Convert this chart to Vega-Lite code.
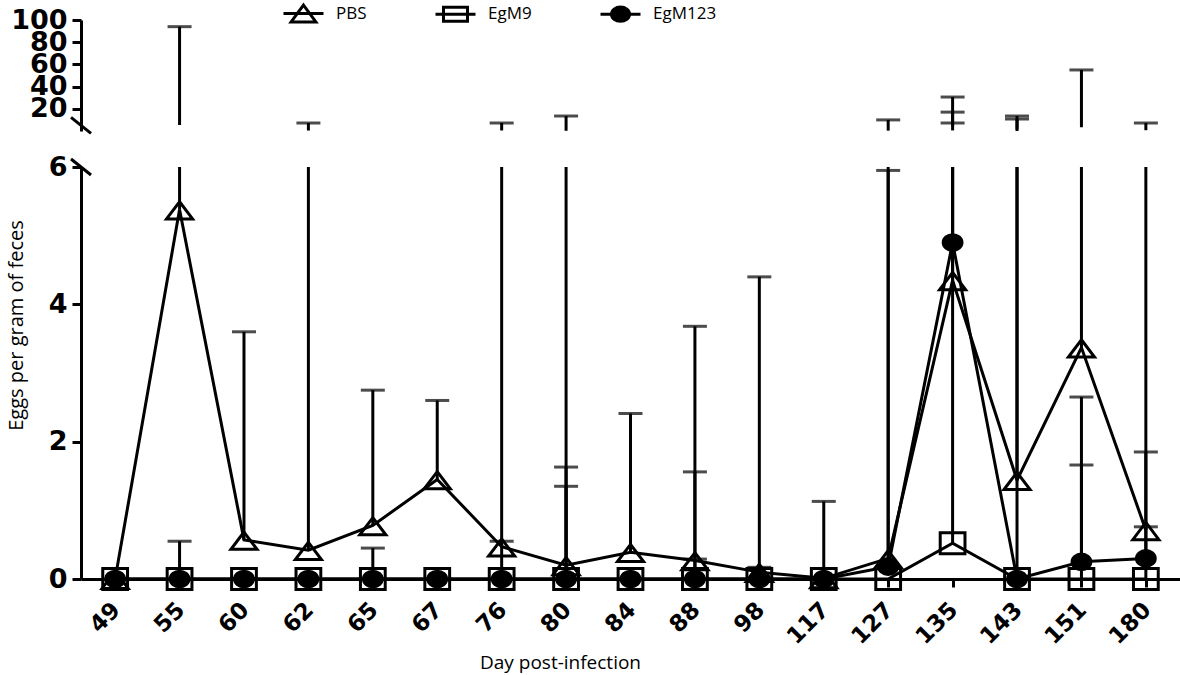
{
  "$schema": "https://vega.github.io/schema/vega-lite/v6.json",
  "autosize": {"type": "none"},
  "padding": {"left": 81, "top": 20, "right": 0, "bottom": 96},
  "width": 1099,
  "height": 559,
  "config": {
    "view": {"stroke": null},
    "axis": {
      "grid": false,
      "domainColor": "black",
      "domainWidth": 3,
      "tickColor": "black",
      "tickWidth": 3,
      "tickSize": 9,
      "labelColor": "black",
      "labelFont": "DejaVu Sans",
      "labelFontWeight": "bold",
      "labelFontSize": 27,
      "labelPadding": 5,
      "labelOverlap": false,
      "titleColor": "black",
      "titleFont": "Open Sans",
      "titleFontWeight": "normal",
      "titleFontSize": 17
    }
  },
  "datasets": {
    "means": [
      {"day": 49, "series": "PBS", "value": 0},
      {"day": 55, "series": "PBS", "value": 5.38},
      {"day": 60, "series": "PBS", "value": 0.57},
      {"day": 62, "series": "PBS", "value": 0.42},
      {"day": 65, "series": "PBS", "value": 0.78},
      {"day": 67, "series": "PBS", "value": 1.45},
      {"day": 76, "series": "PBS", "value": 0.47},
      {"day": 80, "series": "PBS", "value": 0.2},
      {"day": 84, "series": "PBS", "value": 0.39},
      {"day": 88, "series": "PBS", "value": 0.27},
      {"day": 98, "series": "PBS", "value": 0.1},
      {"day": 117, "series": "PBS", "value": 0.01},
      {"day": 127, "series": "PBS", "value": 0.3},
      {"day": 135, "series": "PBS", "value": 4.35},
      {"day": 143, "series": "PBS", "value": 1.44},
      {"day": 151, "series": "PBS", "value": 3.37},
      {"day": 180, "series": "PBS", "value": 0.71},
      {"day": 49, "series": "EgM9", "value": 0},
      {"day": 55, "series": "EgM9", "value": 0},
      {"day": 60, "series": "EgM9", "value": 0},
      {"day": 62, "series": "EgM9", "value": 0},
      {"day": 65, "series": "EgM9", "value": 0},
      {"day": 67, "series": "EgM9", "value": 0},
      {"day": 76, "series": "EgM9", "value": 0},
      {"day": 80, "series": "EgM9", "value": 0},
      {"day": 84, "series": "EgM9", "value": 0},
      {"day": 88, "series": "EgM9", "value": 0},
      {"day": 98, "series": "EgM9", "value": 0},
      {"day": 117, "series": "EgM9", "value": 0},
      {"day": 127, "series": "EgM9", "value": 0},
      {"day": 135, "series": "EgM9", "value": 0.52},
      {"day": 143, "series": "EgM9", "value": 0},
      {"day": 151, "series": "EgM9", "value": 0},
      {"day": 180, "series": "EgM9", "value": 0},
      {"day": 49, "series": "EgM123", "value": 0},
      {"day": 55, "series": "EgM123", "value": 0},
      {"day": 60, "series": "EgM123", "value": 0},
      {"day": 62, "series": "EgM123", "value": 0},
      {"day": 65, "series": "EgM123", "value": 0},
      {"day": 67, "series": "EgM123", "value": 0},
      {"day": 76, "series": "EgM123", "value": 0},
      {"day": 80, "series": "EgM123", "value": 0},
      {"day": 84, "series": "EgM123", "value": 0},
      {"day": 88, "series": "EgM123", "value": 0},
      {"day": 98, "series": "EgM123", "value": 0},
      {"day": 117, "series": "EgM123", "value": 0},
      {"day": 127, "series": "EgM123", "value": 0.18},
      {"day": 135, "series": "EgM123", "value": 4.9},
      {"day": 143, "series": "EgM123", "value": 0},
      {"day": 151, "series": "EgM123", "value": 0.25},
      {"day": 180, "series": "EgM123", "value": 0.3}
    ],
    "bars": [
      {"day": 55, "series": "PBS", "low": 5.38, "high": 94},
      {"day": 55, "series": "EgM123", "low": 0, "high": 0.55},
      {"day": 60, "series": "PBS", "low": 0.57, "high": 3.6},
      {"day": 62, "series": "PBS", "low": 0.42, "high": 7.2},
      {"day": 65, "series": "PBS", "low": 0.78, "high": 2.75},
      {"day": 65, "series": "EgM123", "low": 0, "high": 0.45},
      {"day": 67, "series": "PBS", "low": 1.45, "high": 2.6},
      {"day": 76, "series": "PBS", "low": 0.47, "high": 7.2},
      {"day": 76, "series": "EgM123", "low": 0, "high": 0.55},
      {"day": 80, "series": "PBS", "low": 0.2, "high": 13.5},
      {"day": 80, "series": "EgM123", "low": 0, "high": 1.63},
      {"day": 80, "series": "EgM9", "low": 0, "high": 1.35},
      {"day": 84, "series": "PBS", "low": 0.39, "high": 2.41},
      {"day": 88, "series": "PBS", "low": 0.27, "high": 3.68},
      {"day": 88, "series": "EgM123", "low": 0, "high": 1.56},
      {"day": 88, "series": "EgM9", "low": 0, "high": 0.29},
      {"day": 98, "series": "PBS", "low": 0.1, "high": 4.4},
      {"day": 98, "series": "EgM9", "low": 0, "high": 0.17},
      {"day": 117, "series": "PBS", "low": 0.01, "high": 1.13},
      {"day": 127, "series": "PBS", "low": 0.3, "high": 10},
      {"day": 127, "series": "EgM123", "low": 0.18, "high": 5.95},
      {"day": 135, "series": "EgM123", "low": 4.9, "high": 30.6},
      {"day": 135, "series": "PBS", "low": 4.35, "high": 17},
      {"day": 135, "series": "EgM9", "low": 0.52, "high": 7.2},
      {"day": 143, "series": "PBS", "low": 1.44, "high": 13.5},
      {"day": 143, "series": "EgM123", "low": 0, "high": 10.8},
      {"day": 151, "series": "PBS", "low": 3.37, "high": 55},
      {"day": 151, "series": "EgM123", "low": 0.25, "high": 2.65},
      {"day": 151, "series": "EgM9", "low": 0, "high": 1.66},
      {"day": 180, "series": "PBS", "low": 0.71, "high": 7.2},
      {"day": 180, "series": "EgM123", "low": 0.3, "high": 1.85},
      {"day": 180, "series": "EgM9", "low": 0, "high": 0.76}
    ],
    "breaks": [
      {"panel": "top", "bx": 0, "by": 5},
      {"panel": "bottom", "bx": 0, "by": 6}
    ]
  },
  "layer": [
    {
      "layer": [
        {
          "data": {"name": "bars"},
          "transform": [{"filter": "datum.high > 6"}],
          "mark": {"type": "rule", "color": "black", "strokeWidth": 3},
          "encoding": {
            "x": {"field": "day", "type": "ordinal", "axis": null,
                  "scale": {"type": "point", "padding": 0.53, "domain": [49,55,60,62,65,67,76,80,84,88,98,117,127,135,143,151,180]}},
            "y": {"field": "low", "type": "quantitative",
                  "scale": {"domain": [0, 100], "range": [111, 0], "clamp": true, "nice": false, "zero": false},
                  "axis": {"values": [20, 40, 60, 80, 100], "title": null, "orient": "left", "labelOverlap": false, "format": "d"}},
            "y2": {"field": "high"}
          }
        },
        {
          "data": {"name": "bars"},
          "transform": [{"filter": "datum.high > 6"}],
          "mark": {"type": "tick", "color": "black", "thickness": 3, "size": 24},
          "encoding": {
            "x": {"field": "day", "type": "ordinal"},
            "y": {"field": "high", "type": "quantitative"}
          }
        }
      ]
    },
    {
      "layer": [
        {
          "data": {"name": "bars"},
          "mark": {"type": "rule", "color": "black", "strokeWidth": 3},
          "encoding": {
            "x": {"field": "day", "type": "ordinal",
                  "scale": {"type": "point", "padding": 0.53, "domain": [49,55,60,62,65,67,76,80,84,88,98,117,127,135,143,151,180]},
                  "axis": {"orient": "bottom", "title": "Day post-infection", "labelAngle": -45, "labelFontSize": 23,
                           "labelAlign": "right", "labelBaseline": "middle", "labelOffset": 1,
                           "labelPadding": 19, "tickSize": 8, "titleFontSize": 19,
                           "titleX": 479, "titleY": 89, "titleAlign": "center", "titleBaseline": "alphabetic"}},
            "y": {"field": "low", "type": "quantitative",
                  "scale": {"domain": [0, 6], "range": [559, 147], "clamp": true, "nice": false},
                  "axis": {"values": [0, 2, 4, 6], "title": "Eggs per gram of feces", "orient": "left", "labelOverlap": false, "format": "d",
                           "titleFontSize": 20,
                           "titleX": -59, "titleY": 305, "titleAngle": -90, "titleAlign": "center", "titleBaseline": "alphabetic"}},
            "y2": {"field": "high"}
          }
        },
        {
          "data": {"name": "bars"},
          "transform": [{"filter": "datum.high <= 6"}],
          "mark": {"type": "tick", "color": "black", "thickness": 3, "size": 24},
          "encoding": {
            "x": {"field": "day", "type": "ordinal"},
            "y": {"field": "high", "type": "quantitative"}
          }
        },
        {
          "data": {"name": "means"},
          "mark": {"type": "line", "color": "black", "strokeWidth": 3},
          "encoding": {
            "x": {"field": "day", "type": "ordinal"},
            "y": {"field": "value", "type": "quantitative"},
            "detail": {"field": "series"}
          }
        },
        {
          "data": {"name": "means"},
          "mark": {"type": "point", "filled": false, "stroke": "black", "strokeWidth": 3, "opacity": 1, "size": 680},
          "encoding": {
            "x": {"field": "day", "type": "ordinal"},
            "y": {"field": "value", "type": "quantitative"},
            "shape": {
              "field": "series", "type": "nominal",
              "scale": {"domain": ["PBS", "EgM9", "EgM123"],
                        "range": ["M0,-0.6L1,0.72L-1,0.72Z", "M-0.95,-0.8L0.95,-0.8L0.95,0.8L-0.95,0.8Z", "M-0.72,0A0.72,0.6 0 1,1 0.72,0A0.72,0.6 0 1,1 -0.72,0Z"]},
              "legend": null
            },
            "fill": {"condition": {"test": "datum.series === 'EgM123'", "value": "black"}, "value": "transparent"}
          }
        },
        {
          "data": {"name": "means"},
          "transform": [{"filter": "datum.day < 0"}],
          "mark": {"type": "point", "filled": false, "fill": "transparent", "stroke": "black", "strokeWidth": 3, "opacity": 1, "size": 1600},
          "encoding": {
            "x": {"field": "day", "type": "ordinal"},
            "y": {"field": "value", "type": "quantitative"},
            "shape": {
              "field": "series", "type": "nominal", "title": null,
              "scale": {"domain": ["PBS", "EgM9", "EgM123"],
                        "range": ["M-1,0L1,0M0,-0.42L0.62,0.42L-0.62,0.42Z", "M-1,0L1,0M-0.6,-0.35L0.6,-0.35L0.6,0.35L-0.6,0.35Z", "M-1,0L1,0M0.45,0A0.45,0.36 0 1,1 -0.45,0A0.45,0.36 0 1,1 0.45,0ZM0.3,0A0.3,0.22 0 1,1 -0.3,0A0.3,0.22 0 1,1 0.3,0ZM0.15,0A0.15,0.1 0 1,1 -0.15,0A0.15,0.1 0 1,1 0.15,0Z"]},
              "legend": {
                "title": null,
                "orient": "none",
                "direction": "horizontal",
                "legendX": 201,
                "legendY": -28,
                "symbolSize": 1600,
                "symbolStrokeWidth": 3,
                "symbolStrokeColor": "black",
                "symbolFillColor": "transparent",
                "symbolOpacity": 1,
                "labelFont": "Open Sans",
                "labelFontSize": 17,
                "labelColor": "black",
                "labelOffset": 11,
                "columnPadding": 62
              }
            }
          }
        }
      ],
      "resolve": {"scale": {"shape": "independent"}, "legend": {"shape": "independent"}}
    },
    {
      "data": {"name": "breaks"},
      "transform": [{"filter": "datum.panel === 'top'"}],
      "mark": {"type": "point", "shape": "M-1,-0.8L1,0.8", "size": 400, "filled": false, "stroke": "black", "strokeWidth": 3, "opacity": 1},
      "encoding": {
        "x": {"field": "bx", "type": "quantitative", "scale": {"domain": [0, 1], "nice": false, "zero": false}, "axis": null},
        "y": {"field": "by", "type": "quantitative", "scale": {"domain": [0, 100], "range": [111, 0], "nice": false}, "axis": null}
      }
    },
    {
      "data": {"name": "breaks"},
      "transform": [{"filter": "datum.panel === 'bottom'"}],
      "mark": {"type": "point", "shape": "M-1,-0.8L1,0.8", "size": 400, "filled": false, "stroke": "black", "strokeWidth": 3, "opacity": 1},
      "encoding": {
        "x": {"field": "bx", "type": "quantitative", "scale": {"domain": [0, 1], "nice": false, "zero": false}, "axis": null},
        "y": {"field": "by", "type": "quantitative", "scale": {"domain": [0, 6], "range": [559, 147], "nice": false}, "axis": null}
      }
    }
  ],
  "resolve": {"scale": {"y": "independent", "x": "independent"}}
}
